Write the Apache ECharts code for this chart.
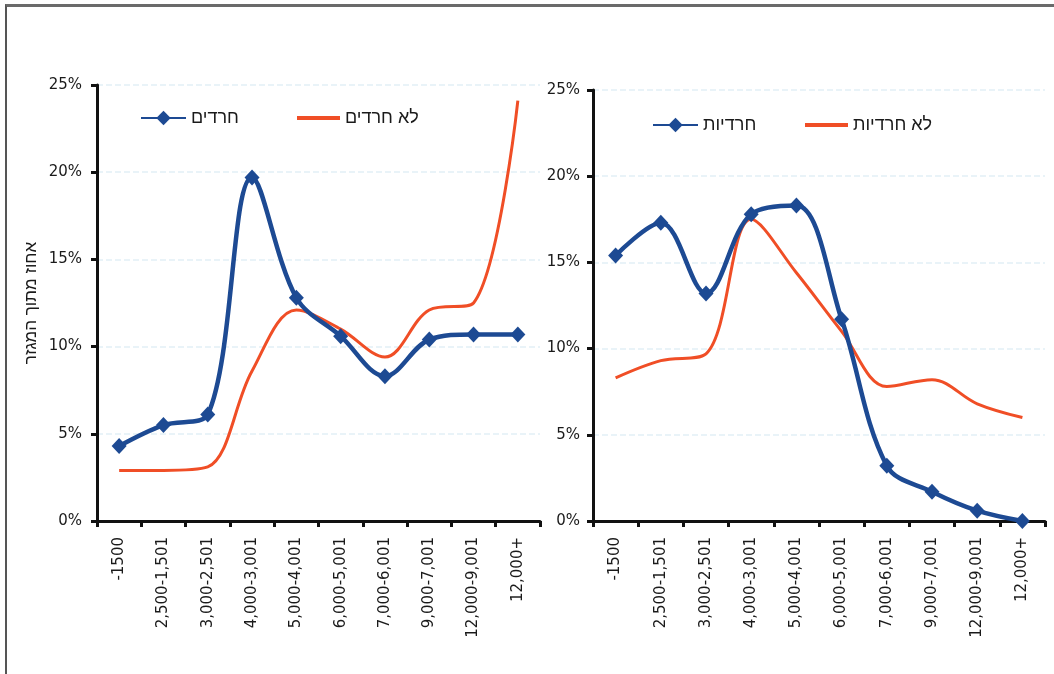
<!DOCTYPE html>
<html><head><meta charset="utf-8">
<script src="https://cdn.jsdelivr.net/npm/echarts@6/dist/echarts.min.js"></script>
<style>
html,body{margin:0;padding:0;background:#fff;}
#c{width:1054px;height:674px;}
#frame{position:absolute;left:5px;top:4px;width:1049px;height:670px;border-top:3px solid #6a6a6a;border-left:2px solid #555;box-sizing:border-box;pointer-events:none;}
</style></head>
<body>
<div id="c"></div>
<div id="frame"></div>
<script>
const categories = ['-1500','2,500-1,501','3,000-2,501','4,000-3,001','5,000-4,001','6,000-5,001','7,000-6,001','9,000-7,001','12,000-9,001','12,000+'];
const yTicks = [0,5,10,15,20,25];
// Left panel (men)
const menHaredi = [4.3,5.5,6.1,19.7,12.8,10.6,8.3,10.4,10.7,10.7];
const menNonHaredi = [2.9,2.9,3.1,8.6,12.1,11.0,9.4,12.1,12.5,24.1];
// Right panel (women)
const womenHaredi = [15.4,17.3,13.2,17.8,18.3,11.7,3.2,1.7,0.6,0.0];
const womenNonHaredi = [8.3,9.3,9.7,17.5,14.4,11.0,7.8,8.2,6.8,6.0];
const names = {lh:'חרדים', ln:'לא חרדים', rh:'חרדיות', rn:'לא חרדיות'};
const yTitle = 'אחוז מתוך המגזר';

const BLUE = '#1d4a93', ORANGE = '#f04e26';
const FONT = 'DejaVu Sans';
function xAxis(i){
  return {type:'category', gridIndex:i, data:categories, boundaryGap:true,
    axisLine:{lineStyle:{color:'#111', width:3}},
    axisTick:{show:true, length:6, lineStyle:{color:'#111', width:3}},
    axisLabel:{rotate:90, interval:0, margin:16, color:'#1a1a1a', fontSize:15, fontFamily:FONT},
    splitLine:{show:false}};
}
function yAxis(i, withName){
  const o = {type:'value', gridIndex:i, min:yTicks[0], max:yTicks[yTicks.length-1], interval:yTicks[1]-yTicks[0],
    axisLine:{show:true, lineStyle:{color:'#111', width:3}},
    axisTick:{show:true, length:6, lineStyle:{color:'#111', width:3}},
    axisLabel:{formatter:'{value}%', color:'#1a1a1a', fontSize:15, fontFamily:FONT, margin:i===0?15:13},
    splitLine:{show:true, lineStyle:{color:'#e2eff6', type:'dashed', width:1.5}}};
  if(withName){
    o.name = yTitle; o.nameLocation='middle'; o.nameGap=57; o.nameRotate=90;
    o.nameTextStyle={fontSize:17, color:'#1a1a1a', fontFamily:'Liberation Sans'};
  }
  return o;
}
function blueSeries(name, data, i){
  return {name, type:'line', xAxisIndex:i, yAxisIndex:i, data, smooth:0.35,
    symbol:'diamond', symbolSize:[15,16], showSymbol:true,
    lineStyle:{color:BLUE, width:4.5}, itemStyle:{color:BLUE}, z:3};
}
function orangeSeries(name, data, i){
  return {name, type:'line', xAxisIndex:i, yAxisIndex:i, data, smooth:0.35,
    symbol:'none', lineStyle:{color:ORANGE, width:3}, itemStyle:{color:ORANGE}, z:2};
}
const legendText = {fontSize:18, color:'#1a1a1a', fontFamily:'Liberation Sans'};
function blueLegend(name, left, top){
  return {data:[name], left, top, itemWidth:45, itemHeight:18, textStyle:legendText, selectedMode:false, padding:0};
}
function orangeLegend(name, left, top){
  return {data:[{name, icon:'rect'}], left, top, itemWidth:43, itemHeight:4, textStyle:legendText, selectedMode:false, padding:0};
}
const chart = echarts.init(document.getElementById('c'), null, {renderer:'canvas'});
chart.setOption({
  animation:false,
  backgroundColor:'#fff',
  grid:[
    {left:97, right:514, top:85, bottom:153},
    {left:593, right:9, top:90, bottom:153}
  ],
  legend:[
    blueLegend(names.lh, 140, 109),
    orangeLegend(names.ln, 297, 109),
    blueLegend(names.rh, 652, 116),
    orangeLegend(names.rn, 805, 116)
  ],
  xAxis:[xAxis(0), xAxis(1)],
  yAxis:[yAxis(0,true), yAxis(1,false)],
  series:[
    blueSeries(names.lh, menHaredi, 0),
    orangeSeries(names.ln, menNonHaredi, 0),
    blueSeries(names.rh, womenHaredi, 1),
    orangeSeries(names.rn, womenNonHaredi, 1)
  ]
});
</script>
</body></html>
